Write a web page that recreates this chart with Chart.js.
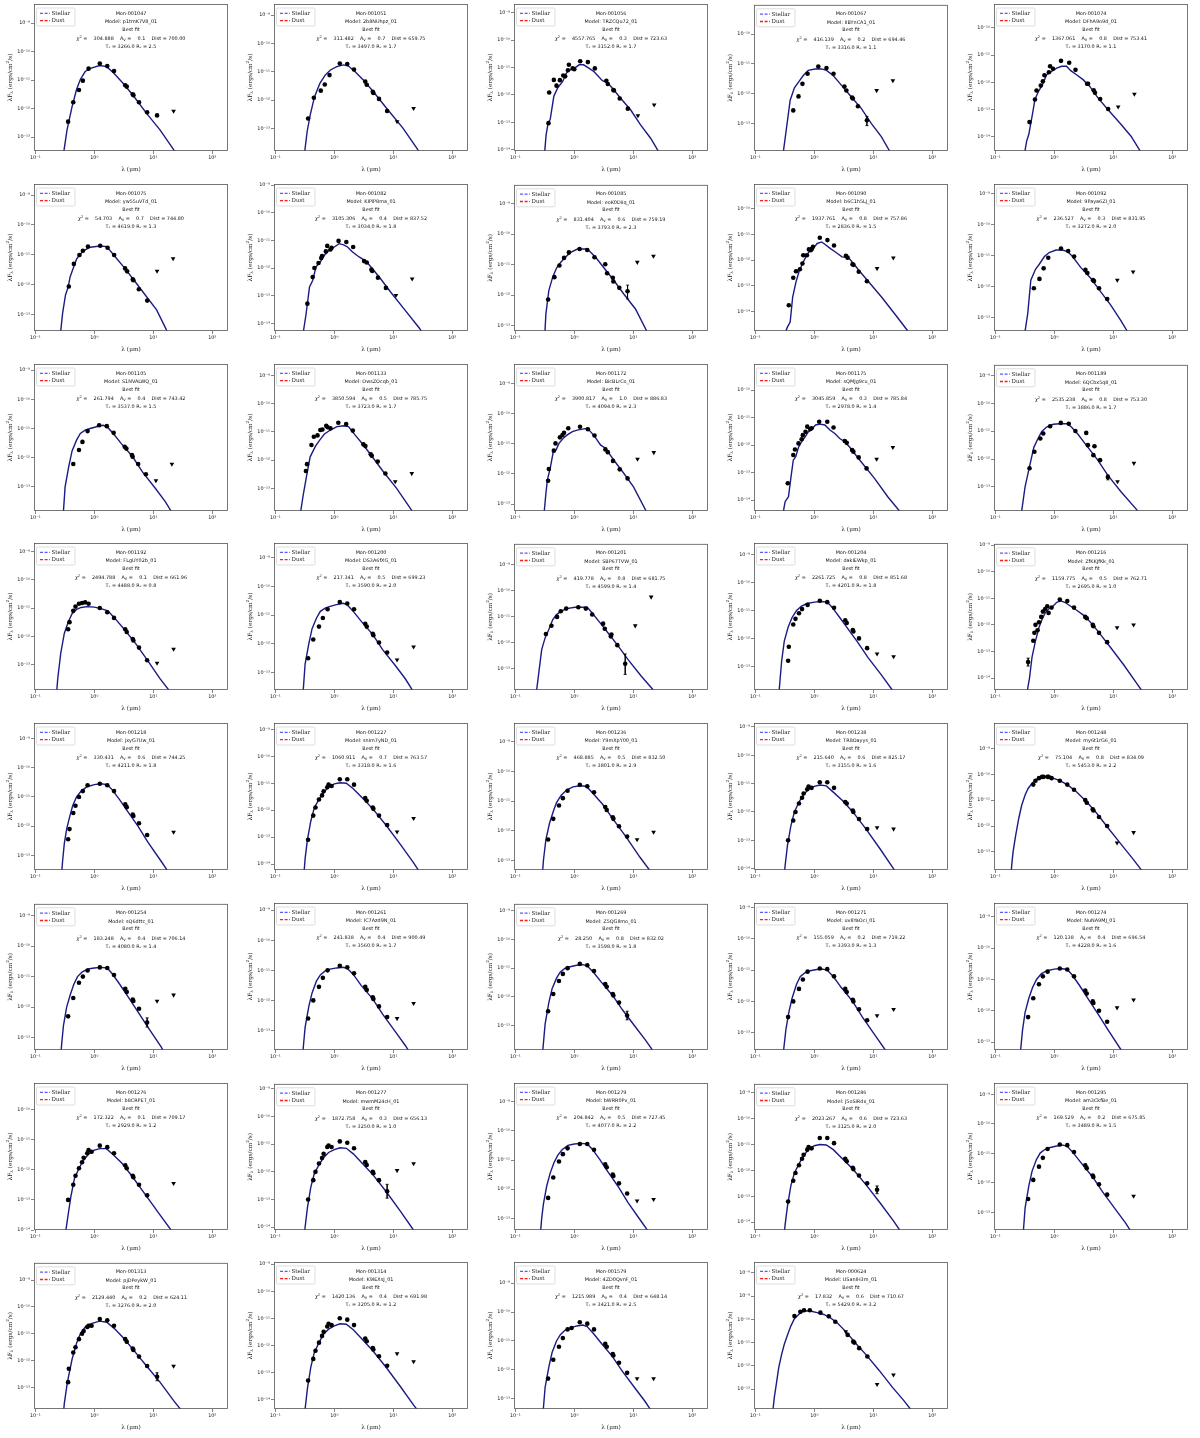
<!DOCTYPE html>
<html><head><meta charset="utf-8">
<script src="https://cdn.jsdelivr.net/npm/chart.js@4.4.1/dist/chart.umd.min.js"></script>
<style>
html,body{margin:0;padding:0;background:#fff}
body{position:relative;width:1200px;height:1438px;overflow:hidden}
canvas{position:absolute}
</style></head>
<body>
<script>
// ---------- panel metadata ----------
const panelIds = ['Mon-001047','Mon-001051','Mon-001056','Mon-001067','Mon-001074','Mon-001075','Mon-001082','Mon-001085','Mon-001090','Mon-001092','Mon-001105','Mon-001133','Mon-001172','Mon-001175','Mon-001189','Mon-001192','Mon-001200','Mon-001201','Mon-001204','Mon-001216','Mon-001218','Mon-001227','Mon-001236','Mon-001238','Mon-001248','Mon-001254','Mon-001261','Mon-001269','Mon-001271','Mon-001274','Mon-001276','Mon-001277','Mon-001279','Mon-001286','Mon-001295','Mon-001313','Mon-001314','Mon-001579','Mon-000624'];
const modelNames = ['p1tmK7V8_01','2b8NUhpz_01','TRZCQu72_01','IIBYnCA1_01','DFhA9o9d_01','yw55uVTd_01','KIPiP8ma_01','eoK0Diiq_01','b6C1h5LJ_01','9Paya6ZI_01','S1NVALWQ_01','OwsZOcqb_01','BicBLrCo_01','sQMJg9cu_01','6QCbx5q8_01','FLgUY02b_01','DS3A6fXG_01','SBP67TVW_01','dakIEWkp_01','ZfKKJfKk_01','jxyG7Uw_01','snim7yND_01','Y9mXpY00_01','TR8Oayys_01','my6t1rG6_01','sQ6dttc_01','IC7Azd9N_01','Z5QGIlmo_01','uv8YaOci_01','NuNA9MJ_01','b8CRPET_01','mwmM24cH_01','bWRR0Pv_01','j5oSiRdx_01','am3CkfBe_01','pjDPeykW_01','K9IEXsJ_01','4ZD0QvnF_01','USanIH3m_01'];
const chiSq = [304.888,311.482,4557.765,416.139,1367.061,54.703,3105.306,831.404,1937.761,236.527,261.794,3850.594,3900.817,3045.859,2535.238,2494.788,217.341,419.778,2261.725,1159.775,330.431,1060.911,468.885,215.640,75.104,183.248,241.838,28.250,155.059,120.138,172.322,1872.758,204.842,2023.267,169.529,2129.440,1420.136,1215.989,17.832];
const avValues = [0.1,0.7,0.3,0.2,0.8,0.7,0.4,0.6,0.8,0.3,0.4,0.5,1.0,0.3,0.8,0.1,0.5,0.8,0.8,0.5,0.6,0.7,0.5,0.6,0.8,0.4,0.4,0.8,0.2,0.4,0.1,0.3,0.5,0.6,0.2,0.2,0.4,0.4,0.6];
const distances = [700.00,659.75,723.63,694.46,753.41,744.80,837.52,759.19,757.86,831.95,743.42,785.75,886.83,785.84,753.30,661.96,699.23,681.75,851.68,762.71,744.25,763.57,832.50,825.17,834.09,706.14,900.49,832.02,719.22,696.54,709.17,656.13,727.45,723.63,675.85,624.11,691.98,648.14,710.67];
const tStar = [3266,3497,3152,3316,3170,4619,3034,3793,2836,3272,3537,3723,4094,2978,3886,4488,3590,4599,4201,2695,4211,3318,3801,3155,5453,4080,3560,3598,3393,4228,2929,3250,4077,3125,3489,3276,3205,3421,5429];
const rStar = [2.5,1.7,1.7,1.1,1.1,1.3,1.8,2.3,1.5,2.0,1.5,1.7,2.3,1.4,1.7,0.8,2.0,1.4,1.8,1.0,1.8,1.6,2.9,1.6,2.2,1.4,1.7,1.8,1.3,1.6,1.2,1.0,2.2,2.0,1.5,2.0,1.2,2.5,3.2];

// ---------- axis ranges: log10 of flux limits [bottom, top] ----------
const yRangeLog = [[-13.49,-8.33],[-13.8,-8.61],[-14.04,-8.68],[-13.92,-9.02],[-14.49,-9.12],[-13.56,-8.63],[-14.28,-8.96],[-13.17,-8.39],[-14.75,-9.04],[-13.44,-8.7],
[-13.83,-8.79],[-13.8,-8.59],[-13.23,-8.36],[-14.4,-9.05],[-13.87,-8.61],[-13.9,-8.7],[-13.6,-8.5],[-13.83,-8.19],[-13.85,-8.58],[-14.45,-8.95],
[-13.5,-8.47],[-14.2,-8.76],[-13.33,-8.36],[-14.05,-8.86],[-13.7,-8.02],[-13.4,-8.62],[-13.65,-8.76],[-13.85,-8.76],[-13.55,-8.86],[-13.25,-8.56],
[-14.0,-9.12],[-14.1,-8.82],[-13.4,-8.36],[-14.3,-8.66],[-13.6,-8.61],[-13.8,-8.36],[-14.35,-8.92],[-13.35,-8.27],[-13.86,-7.53]];
const xRange = [0.095, 185];
const xTickValues = [0.1, 1, 10, 100];

// ---------- photometry: [wavelength um, log10 lambda F_lambda] ----------
const obsPoints = [
[[0.36,-12.46],[0.44,-11.78],[0.55,-11.35],[0.64,-11.02],[0.80,-10.6],[1.24,-10.42],[1.66,-10.51],[2.16,-10.68],[3.35,-11.18],[3.55,-11.23],[4.49,-11.5],[4.6,-11.53],[5.73,-11.78],[7.87,-12.13],[11.6,-12.24]],
[[0.36,-12.65],[0.45,-11.92],[0.59,-11.67],[0.69,-11.45],[0.83,-11.12],[1.24,-10.71],[1.66,-10.73],[2.16,-10.92],[3.35,-11.35],[3.55,-11.46],[4.49,-11.71],[4.6,-11.75],[5.73,-11.96],[7.87,-12.39]],
[[0.365,-13.03],[0.375,-11.91],[0.45,-11.45],[0.50,-11.66],[0.57,-11.46],[0.65,-11.29],[0.70,-11.32],[0.78,-11.1],[0.81,-10.9],[0.94,-11.03],[1.0,-11.06],[1.26,-10.77],[1.70,-10.8],[2.23,-11.03],[3.5,-11.48],[3.7,-11.6],[4.6,-11.82],[4.7,-11.84],[5.9,-12.13],[8.1,-12.5]],
[[0.44,-12.56],[0.54,-12.09],[0.63,-11.67],[0.77,-11.33],[1.17,-11.09],[1.61,-11.14],[2.12,-11.33],[3.24,-11.76],[3.5,-11.89],[4.37,-12.13],[4.5,-12.16],[5.5,-12.42],[7.8,-12.89]],
[[0.38,-13.46],[0.47,-12.63],[0.5,-12.3],[0.59,-12.12],[0.64,-11.96],[0.68,-11.74],[0.81,-11.63],[0.85,-11.41],[0.95,-11.5],[1.3,-11.21],[1.79,-11.28],[2.29,-11.54],[3.6,-12.05],[3.74,-12.05],[4.66,-12.29],[4.9,-12.38],[6.0,-12.61],[8.2,-12.98]],
[[0.37,-12.07],[0.45,-11.31],[0.56,-11.01],[0.64,-10.87],[0.78,-10.73],[1.26,-10.7],[1.68,-10.77],[2.17,-11.01],[3.33,-11.46],[3.6,-11.56],[4.49,-11.83],[4.6,-11.86],[5.7,-12.16],[7.9,-12.54]],
[[0.35,-13.29],[0.43,-12.33],[0.46,-12.0],[0.54,-11.82],[0.6,-11.64],[0.62,-11.57],[0.72,-11.4],[0.76,-11.2],[0.86,-11.33],[0.9,-11.27],[1.18,-11.02],[1.6,-11.06],[2.09,-11.24],[3.2,-11.75],[3.55,-11.8],[4.26,-12.06],[4.4,-12.11],[5.5,-12.35],[7.5,-12.72]],
[[0.36,-12.14],[0.46,-11.41],[0.56,-11.03],[0.67,-10.78],[0.81,-10.6],[1.23,-10.49],[1.66,-10.52],[2.2,-10.76],[3.35,-10.99],[3.6,-11.28],[4.5,-11.43],[4.6,-11.55],[5.8,-11.76],[8.0,-11.87]],
[[0.37,-13.75],[0.44,-12.68],[0.49,-12.43],[0.57,-12.35],[0.63,-12.13],[0.65,-11.81],[0.75,-11.81],[0.81,-11.58],[0.87,-11.61],[0.9,-11.57],[0.95,-11.48],[1.24,-11.13],[1.67,-11.22],[2.16,-11.43],[3.44,-11.83],[3.66,-11.9],[4.45,-12.16],[4.6,-12.18],[5.67,-12.45],[7.8,-12.82]],
[[0.45,-12.06],[0.56,-11.76],[0.66,-11.42],[0.79,-11.08],[1.3,-10.78],[1.72,-10.86],[2.17,-11.04],[3.37,-11.47],[3.64,-11.57],[4.54,-11.8],[4.72,-11.83],[5.74,-12.06],[7.9,-12.41]],
[[0.44,-12.22],[0.55,-11.74],[0.63,-11.46],[0.77,-11.09],[1.21,-10.89],[1.63,-10.92],[2.13,-11.15],[3.28,-11.63],[3.5,-11.69],[4.35,-11.91],[4.47,-11.97],[5.55,-12.22],[7.5,-12.57]],
[[0.33,-12.38],[0.345,-12.14],[0.41,-11.46],[0.45,-11.17],[0.52,-11.12],[0.58,-10.93],[0.63,-10.91],[0.73,-10.78],[0.77,-10.83],[0.86,-10.87],[1.17,-10.67],[1.59,-10.72],[2.06,-10.95],[3.12,-11.44],[3.37,-11.5],[4.15,-11.79],[4.32,-11.84],[5.45,-12.05],[7.35,-12.47]],
[[0.36,-12.23],[0.37,-11.84],[0.45,-11.23],[0.48,-10.99],[0.57,-10.79],[0.63,-10.71],[0.67,-10.64],[0.79,-10.49],[1.25,-10.44],[1.7,-10.52],[2.2,-10.73],[3.37,-11.19],[3.7,-11.28],[4.54,-11.57],[5.9,-11.85],[8.0,-12.15]],
[[0.355,-13.39],[0.44,-12.36],[0.47,-12.16],[0.54,-11.94],[0.61,-11.79],[0.64,-11.64],[0.71,-11.52],[0.76,-11.33],[0.85,-11.42],[0.9,-11.39],[1.21,-11.15],[1.66,-11.15],[2.12,-11.36],[3.29,-11.85],[3.55,-11.92],[4.37,-12.18],[4.6,-12.24],[5.66,-12.45],[7.7,-12.85]],
[[0.38,-12.33],[0.46,-11.74],[0.58,-11.26],[0.65,-11.08],[0.85,-10.82],[1.29,-10.7],[1.76,-10.73],[2.28,-10.99],[3.48,-11.06],[3.71,-11.5],[4.6,-11.86],[4.8,-11.54],[5.97,-12.04],[8.1,-12.65]],
[[0.36,-11.75],[0.38,-11.5],[0.44,-11.1],[0.48,-10.95],[0.55,-10.85],[0.62,-10.82],[0.7,-10.8],[0.8,-10.85],[1.24,-11.0],[1.66,-11.15],[2.16,-11.35],[3.35,-11.75],[3.55,-11.85],[4.49,-12.1],[4.6,-12.15],[5.73,-12.4],[7.87,-12.85]],
[[0.36,-12.5],[0.44,-11.85],[0.55,-11.4],[0.64,-11.1],[0.77,-10.8],[1.24,-10.55],[1.66,-10.6],[2.16,-10.8],[3.35,-11.3],[3.55,-11.4],[4.49,-11.65],[4.6,-11.7],[5.73,-11.95],[7.87,-12.3]],
[[0.33,-11.67],[0.41,-11.35],[0.51,-11.01],[0.59,-10.79],[0.73,-10.69],[1.17,-10.64],[1.57,-10.69],[2.01,-10.92],[3.08,-11.27],[3.29,-11.47],[4.16,-11.76],[4.26,-11.69],[5.37,-12.1],[7.3,-12.82]],
[[0.36,-12.8],[0.37,-12.3],[0.44,-11.5],[0.48,-11.3],[0.55,-11.1],[0.62,-10.95],[0.77,-10.8],[1.24,-10.65],[1.66,-10.7],[2.16,-10.9],[3.35,-11.35],[3.55,-11.45],[4.49,-11.7],[4.6,-11.75],[5.73,-12.0],[7.87,-12.35]],
[[0.36,-13.4],[0.44,-12.6],[0.46,-12.3],[0.48,-12.0],[0.52,-12.2],[0.55,-11.9],[0.6,-11.7],[0.64,-11.5],[0.7,-11.4],[0.76,-11.3],[0.8,-11.55],[0.9,-11.35],[1.24,-11.05],[1.66,-11.1],[2.16,-11.35],[3.35,-11.7],[3.55,-11.75],[4.49,-12.0],[4.6,-12.05],[5.73,-12.3],[7.87,-12.65]],
[[0.36,-12.45],[0.38,-12.1],[0.44,-11.55],[0.48,-11.3],[0.55,-11.0],[0.64,-10.8],[0.77,-10.6],[1.24,-10.55],[1.66,-10.6],[2.16,-10.8],[3.35,-11.25],[3.55,-11.35],[4.49,-11.6],[4.6,-11.65],[5.73,-11.9],[7.87,-12.3]],
[[0.36,-13.1],[0.44,-12.2],[0.48,-11.9],[0.55,-11.6],[0.62,-11.45],[0.66,-11.3],[0.76,-11.15],[0.8,-11.05],[0.9,-11.1],[1.24,-10.85],[1.66,-10.85],[2.16,-11.05],[3.35,-11.55],[3.55,-11.65],[4.49,-11.9],[4.6,-11.95],[5.73,-12.2],[7.87,-12.55]],
[[0.36,-12.3],[0.44,-11.6],[0.55,-11.15],[0.64,-10.9],[0.77,-10.65],[1.24,-10.45],[1.66,-10.5],[2.16,-10.7],[3.35,-11.2],[3.55,-11.3],[4.49,-11.55],[4.6,-11.6],[5.73,-11.85],[7.87,-12.2]],
[[0.36,-13.0],[0.44,-12.3],[0.48,-12.0],[0.55,-11.7],[0.62,-11.5],[0.66,-11.35],[0.76,-11.2],[0.8,-11.1],[0.9,-11.15],[1.24,-10.95],[1.66,-10.95],[2.16,-11.15],[3.35,-11.65],[3.55,-11.7],[4.49,-11.95],[4.6,-12.0],[5.73,-12.25],[7.87,-12.6]],
[[0.44,-10.4],[0.48,-10.25],[0.55,-10.15],[0.62,-10.1],[0.66,-10.1],[0.77,-10.1],[0.8,-10.1],[0.9,-10.15],[1.24,-10.25],[1.66,-10.4],[2.16,-10.6],[3.35,-11.0],[3.55,-11.1],[4.49,-11.35],[4.6,-11.4],[5.73,-11.65],[7.87,-12.0]],
[[0.36,-12.3],[0.44,-11.7],[0.55,-11.2],[0.64,-11.0],[0.77,-10.8],[1.24,-10.7],[1.66,-10.72],[2.16,-10.95],[3.35,-11.4],[3.55,-11.5],[4.49,-11.75],[4.6,-11.8],[5.73,-12.05],[7.87,-12.5]],
[[0.36,-12.6],[0.44,-12.0],[0.55,-11.55],[0.64,-11.25],[0.77,-11.0],[1.24,-10.85],[1.66,-10.9],[2.16,-11.1],[3.35,-11.55],[3.55,-11.65],[4.49,-11.9],[4.6,-11.95],[5.73,-12.2],[7.87,-12.55]],
[[0.36,-12.5],[0.44,-11.9],[0.55,-11.45],[0.64,-11.2],[0.77,-11.0],[1.24,-10.85],[1.66,-10.9],[2.16,-11.1],[3.35,-11.55],[3.55,-11.65],[4.49,-11.9],[4.6,-11.95],[5.73,-12.2],[7.87,-12.65]],
[[0.36,-12.5],[0.44,-12.0],[0.55,-11.6],[0.64,-11.3],[0.77,-11.05],[1.24,-10.95],[1.66,-10.97],[2.16,-11.2],[3.35,-11.6],[3.55,-11.7],[4.49,-11.95],[4.6,-12.0],[5.73,-12.25],[7.87,-12.6]],
[[0.36,-12.2],[0.44,-11.6],[0.55,-11.15],[0.64,-10.9],[0.77,-10.75],[1.24,-10.65],[1.66,-10.68],[2.16,-10.9],[3.35,-11.35],[3.55,-11.45],[4.49,-11.7],[4.6,-11.75],[5.73,-12.0],[7.87,-12.35]],
[[0.36,-13.0],[0.44,-12.5],[0.48,-12.2],[0.55,-11.95],[0.62,-11.75],[0.66,-11.6],[0.76,-11.45],[0.8,-11.35],[0.9,-11.4],[1.24,-11.2],[1.66,-11.25],[2.16,-11.45],[3.35,-11.85],[3.55,-11.95],[4.49,-12.2],[4.6,-12.25],[5.73,-12.5],[7.87,-12.85]],
[[0.36,-13.0],[0.44,-12.3],[0.48,-12.0],[0.55,-11.7],[0.62,-11.5],[0.66,-11.35],[0.76,-11.1],[0.8,-11.05],[0.9,-11.1],[1.24,-10.9],[1.66,-10.95],[2.16,-11.15],[3.35,-11.65],[3.55,-11.75],[4.49,-12.0],[4.6,-12.05],[5.73,-12.3],[7.87,-12.7]],
[[0.36,-12.3],[0.44,-11.6],[0.55,-11.05],[0.64,-10.8],[0.77,-10.6],[1.24,-10.45],[1.66,-10.45],[2.16,-10.65],[3.35,-11.15],[3.55,-11.25],[4.49,-11.5],[4.6,-11.55],[5.73,-11.8],[7.87,-12.15]],
[[0.36,-13.2],[0.44,-12.4],[0.48,-12.1],[0.55,-11.8],[0.62,-11.55],[0.66,-11.4],[0.76,-11.2],[0.8,-11.1],[0.9,-11.15],[1.24,-10.75],[1.66,-10.75],[2.16,-10.95],[3.35,-11.55],[3.55,-11.65],[4.49,-11.9],[4.6,-11.95],[5.73,-12.2],[7.87,-12.5],[11.6,-12.75]],
[[0.36,-12.55],[0.44,-11.9],[0.55,-11.45],[0.64,-11.15],[0.77,-10.85],[1.24,-10.7],[1.66,-10.72],[2.16,-10.95],[3.35,-11.4],[3.55,-11.5],[4.49,-11.75],[4.6,-11.8],[5.73,-12.05],[7.87,-12.4]],
[[0.36,-12.8],[0.37,-12.3],[0.44,-11.7],[0.48,-11.5],[0.55,-11.2],[0.62,-11.0],[0.66,-10.9],[0.76,-10.75],[0.8,-10.7],[0.9,-10.7],[1.24,-10.45],[1.66,-10.5],[2.16,-10.7],[3.35,-11.2],[3.55,-11.3],[4.49,-11.55],[4.6,-11.6],[5.73,-11.85],[7.87,-12.2],[11.6,-12.6]],
[[0.36,-13.3],[0.44,-12.5],[0.48,-12.2],[0.55,-11.9],[0.62,-11.65],[0.66,-11.5],[0.76,-11.3],[0.8,-11.2],[0.9,-11.25],[1.24,-11.0],[1.66,-11.05],[2.16,-11.25],[3.35,-11.75],[3.55,-11.85],[4.49,-12.1],[4.6,-12.15],[5.73,-12.4],[7.87,-12.75]],
[[0.36,-12.3],[0.44,-11.65],[0.55,-11.2],[0.64,-10.9],[0.77,-10.6],[0.9,-10.55],[1.24,-10.35],[1.66,-10.4],[2.16,-10.6],[3.35,-11.1],[3.55,-11.2],[4.49,-11.45],[4.6,-11.5],[5.73,-11.75],[7.87,-12.1]],
[[0.46,-9.86],[0.58,-9.67],[0.67,-9.61],[0.84,-9.61],[1.27,-9.71],[1.76,-9.87],[2.27,-10.1],[3.68,-10.67],[4.58,-10.96],[4.76,-11.0],[5.77,-11.24],[7.94,-11.6]]
];

// ---------- upper limits: [wavelength um, log10 flux] ----------
const upperLimits = [
[[22.1,-12.09]],[[11.6,-12.76],[22.1,-12.29]],[[12,-12.75],[22.6,-12.36]],[[11.4,-11.89],[21.5,-11.56]],[[12.1,-12.9],[22.8,-12.43]],
[[11.6,-11.55],[21.7,-11.13]],[[11.1,-12.99],[20.9,-12.39]],[[11.7,-10.92],[22,-10.72]],[[11.6,-12.32],[21.9,-11.91]],[[11.7,-11.8],[21.7,-11.53]],
[[11.1,-12.79],[20.7,-12.22]],[[10.8,-12.76],[20.6,-12.47]],[[11.8,-11.51],[22.3,-11.29]],[[11.4,-12.51],[21.5,-12.08]],[[11.8,-12.81],[22.4,-12.15]],
[[11.6,-12.95],[22.1,-12.45]],[[11.6,-12.55],[22.1,-12.1]],[[10.8,-11.35],[20.1,-10.24]],[[11.6,-12.55],[22.1,-12.65]],[[11.6,-12.1],[22.1,-12.0]],
[[22.1,-12.2]],[[11.6,-12.8],[22.1,-12.3]],[[11.6,-12.3],[22.1,-12.05]],[[11.6,-12.55],[22.1,-12.6]],[[11.6,-12.65],[22.1,-12.25]],
[[11.6,-11.8],[22.1,-11.6]],[[11.6,-12.6],[22.1,-12.1]],[],[[11.6,-12.45],[22.1,-12.25]],[[11.6,-11.9],[22.1,-11.65]],
[[22.1,-12.45]],[[11.6,-11.95],[22.1,-11.7]],[[11.6,-12.4],[22.1,-12.35]],[],[[22.1,-12.45]],
[[22.1,-12.2]],[[11.6,-12.3],[22.1,-12.6]],[[11.6,-12.3],[22.1,-12.3]],[[3.41,-10.53],[11.6,-12.8],[22.0,-12.39]]
];

// ---------- error bars: [wavelength um, log10 low, log10 high] ----------
const errorBars = [
[],[],[],[[7.8,-12.76,-13.07]],[],[],[],[[8.0,-11.67,-12.12]],[],[],
[],[],[],[],[[8.1,-12.57,-12.75]],[],[],[[7.3,-12.44,-13.23]],[],[[0.36,-13.25,-13.55]],
[],[],[],[],[],[[7.87,-12.35,-12.65]],[],[[7.87,-12.5,-12.8]],[],[],
[],[[7.87,-12.45,-12.95]],[],[[11.6,-12.6,-12.9]],[],[[11.6,-12.45,-12.75]],[],[],[]
];

// ---------- best-fit model curves: [wavelength um, log10 flux] ----------
const modelCurves = [
[[0.29,-14.2],[0.30,-13.6],[0.345,-12.75],[0.42,-11.93],[0.5,-11.33],[0.58,-10.98],[0.7,-10.7],[0.86,-10.59],[1.23,-10.49],[1.63,-10.53],[2.17,-10.77],[3.1,-11.12],[4.6,-11.55],[7.7,-12.17],[13,-12.75],[22.3,-13.45],[30,-13.8]],
[[0.3,-14.5],[0.316,-13.8],[0.346,-13.12],[0.39,-12.53],[0.46,-11.9],[0.57,-11.41],[0.7,-11.12],[0.86,-10.94],[1.1,-10.82],[1.44,-10.76],[1.74,-10.8],[2.26,-11.0],[3.1,-11.29],[4.6,-11.71],[7.7,-12.29],[14.7,-13.0],[25.7,-13.73],[30,-14]],
[[0.31,-14.5],[0.316,-14.04],[0.333,-13.45],[0.36,-13.03],[0.39,-12.9],[0.45,-12.05],[0.52,-11.75],[0.64,-11.5],[0.72,-11.23],[0.82,-11.09],[1.0,-11.03],[1.21,-10.9],[1.44,-10.9],[1.79,-11.03],[2.17,-11.15],[3.0,-11.48],[3.65,-11.55],[4.7,-11.82],[6.1,-12.12],[9.0,-12.54],[13.3,-13.09],[19.7,-13.58],[26.4,-14.04],[30,-14.3]],
[[0.29,-14.5],[0.30,-13.92],[0.34,-13.11],[0.39,-12.22],[0.46,-11.8],[0.54,-11.61],[0.65,-11.39],[0.79,-11.22],[1.03,-11.17],[1.33,-11.17],[1.61,-11.22],[2.09,-11.39],[2.9,-11.72],[4.26,-12.11],[6.3,-12.5],[9.3,-13.0],[13.7,-13.44],[18.9,-13.92],[25,-14.3]],
[[0.31,-15],[0.32,-14.49],[0.34,-14.16],[0.37,-13.91],[0.43,-13.12],[0.47,-12.63],[0.54,-12.33],[0.63,-12.09],[0.74,-11.72],[0.9,-11.6],[1.1,-11.48],[1.33,-11.41],[1.61,-11.41],[1.9,-11.57],[2.38,-11.72],[3.08,-11.9],[4.0,-12.15],[5.5,-12.57],[8.1,-13.0],[13.6,-13.55],[20,-13.98],[28,-14.49],[34,-14.8]],
[[0.26,-14],[0.27,-13.56],[0.29,-12.97],[0.325,-12.35],[0.36,-12.09],[0.39,-11.74],[0.45,-11.4],[0.5,-11.15],[0.58,-10.98],[0.7,-10.84],[0.85,-10.75],[1.26,-10.71],[1.63,-10.73],[2.26,-11.07],[3.3,-11.46],[4.9,-11.9],[7.7,-12.41],[11.4,-12.85],[16.8,-13.53],[20,-13.8]],
[[0.29,-15],[0.3,-14.28],[0.33,-13.71],[0.38,-12.69],[0.43,-12.45],[0.49,-11.96],[0.58,-11.78],[0.68,-11.54],[0.82,-11.36],[1.0,-11.24],[1.21,-11.12],[1.44,-11.16],[1.68,-11.24],[2.04,-11.42],[2.64,-11.6],[3.42,-11.75],[4.4,-12.02],[6.1,-12.39],[9.0,-12.87],[15.1,-13.47],[28,-14.19],[32,-14.4]],
[[0.31,-13.6],[0.33,-12.61],[0.37,-11.85],[0.43,-11.41],[0.5,-11.11],[0.59,-10.92],[0.72,-10.74],[0.87,-10.6],[1.13,-10.49],[1.56,-10.49],[1.77,-10.54],[2.3,-10.76],[3.2,-11.11],[4.7,-11.52],[6.9,-11.96],[10.9,-12.45],[17,-13.18],[20,-13.4]],
[[0.32,-15.2],[0.33,-14.75],[0.35,-14.6],[0.39,-14.4],[0.43,-13.43],[0.49,-12.84],[0.55,-12.45],[0.63,-12.13],[0.72,-11.87],[0.81,-11.68],[0.95,-11.55],[1.12,-11.35],[1.33,-11.29],[1.51,-11.38],[1.88,-11.55],[2.28,-11.68],[2.95,-11.87],[3.81,-11.9],[4.6,-12.13],[5.97,-12.45],[8.2,-12.82],[13.8,-13.43],[23,-14.08],[38,-14.73],[42,-14.9]],
[[0.31,-14],[0.32,-13.44],[0.355,-12.87],[0.4,-11.8],[0.48,-11.45],[0.56,-11.28],[0.68,-11.04],[0.82,-10.91],[1.07,-10.83],[1.38,-10.83],[1.68,-10.88],[2.04,-11.04],[2.8,-11.39],[4.15,-11.74],[6.1,-12.17],[9,-12.6],[13.3,-13.09],[17.2,-13.44],[20,-13.7]],
[[0.29,-14.3],[0.3,-13.83],[0.32,-13.0],[0.37,-12.29],[0.42,-11.77],[0.5,-11.4],[0.58,-11.17],[0.7,-11.06],[0.85,-11.0],[1.09,-10.94],[1.41,-10.89],[1.65,-10.94],[2.13,-11.19],[2.85,-11.51],[4.47,-11.97],[6.55,-12.49],[10.9,-13.06],[16,-13.51],[20,-13.83],[24,-14.1]],
[[0.26,-14.3],[0.27,-13.8],[0.3,-13.18],[0.345,-12.47],[0.39,-11.88],[0.48,-11.5],[0.57,-11.28],[0.68,-11.07],[0.86,-10.93],[1.11,-10.81],[1.44,-10.78],[1.74,-10.81],[2.26,-11.11],[3.12,-11.46],[4.6,-11.93],[6.8,-12.41],[11.4,-13.0],[20.4,-13.77],[24,-14.0]],
[[0.3,-13.8],[0.31,-13.23],[0.33,-12.65],[0.35,-12.2],[0.39,-11.82],[0.44,-11.27],[0.49,-11.21],[0.55,-10.99],[0.65,-10.82],[0.76,-10.71],[0.93,-10.6],[1.12,-10.55],[1.46,-10.51],[1.66,-10.49],[1.88,-10.6],[2.2,-10.75],[2.78,-11.04],[3.37,-11.15],[4.66,-11.54],[6.9,-11.98],[10.1,-12.43],[16.5,-13.23],[19,-13.5]],
[[0.29,-15],[0.3,-14.4],[0.32,-14.06],[0.365,-13.88],[0.4,-13.21],[0.44,-12.55],[0.485,-12.42],[0.54,-12.08],[0.61,-11.88],[0.7,-11.7],[0.79,-11.52],[0.9,-11.42],[1.05,-11.27],[1.25,-11.24],[1.51,-11.27],[1.84,-11.45],[2.23,-11.58],[2.7,-11.76],[3.29,-11.88],[4.0,-12.08],[5.2,-12.4],[7.1,-12.76],[10.5,-13.21],[17.6,-13.88],[27.8,-14.4],[32,-14.6]],
[[0.27,-14.3],[0.28,-13.87],[0.32,-12.99],[0.38,-12.27],[0.45,-11.58],[0.53,-11.26],[0.61,-11.02],[0.74,-10.85],[0.96,-10.75],[1.24,-10.73],[1.67,-10.73],[1.95,-10.85],[2.52,-11.11],[3.48,-11.5],[5.46,-12.04],[8.0,-12.57],[13.4,-13.17],[24.9,-13.82],[28,-14.0]],
[[0.22,-14.5],[0.24,-13.5],[0.27,-12.6],[0.31,-11.9],[0.36,-11.5],[0.42,-11.2],[0.5,-11.05],[0.6,-10.98],[0.75,-10.95],[1.0,-10.97],[1.3,-11.02],[1.7,-11.1],[2.2,-11.35],[3.3,-11.78],[5,-12.25],[8,-12.85],[13,-13.5],[20,-14.0]],
[[0.29,-14],[0.3,-13.5],[0.32,-12.7],[0.37,-11.99],[0.42,-11.47],[0.5,-11.1],[0.58,-10.87],[0.7,-10.76],[0.85,-10.7],[1.09,-10.64],[1.41,-10.59],[1.65,-10.64],[2.13,-10.89],[2.85,-11.21],[4.47,-11.67],[6.55,-12.19],[10.9,-12.76],[16,-13.21],[20,-13.53],[24,-13.8]],
[[0.22,-14.2],[0.23,-13.83],[0.25,-13.17],[0.28,-12.27],[0.32,-11.82],[0.37,-11.5],[0.43,-11.12],[0.5,-10.92],[0.6,-10.79],[0.74,-10.69],[1.03,-10.64],[1.33,-10.64],[1.66,-10.64],[1.96,-10.83],[2.7,-11.22],[3.74,-11.63],[5.5,-12.12],[8.1,-12.65],[13.6,-13.29],[21.5,-13.81],[25,-14.0]],
[[0.24,-14.5],[0.26,-13.6],[0.28,-12.8],[0.31,-12.1],[0.36,-11.6],[0.42,-11.25],[0.5,-11.0],[0.6,-10.85],[0.75,-10.75],[1.0,-10.7],[1.3,-10.68],[1.66,-10.7],[2.0,-10.88],[2.7,-11.25],[3.7,-11.65],[5.5,-12.15],[8.1,-12.68],[13.6,-13.3],[21,-13.85],[25,-14.1]],
[[0.33,-15],[0.35,-14.45],[0.38,-14.0],[0.42,-13.2],[0.48,-12.6],[0.55,-12.1],[0.62,-11.8],[0.7,-11.55],[0.8,-11.4],[0.95,-11.3],[1.1,-11.15],[1.3,-11.1],[1.5,-11.15],[1.9,-11.3],[2.4,-11.45],[3.2,-11.65],[4.5,-12.0],[6,-12.35],[9,-12.85],[15,-13.5],[25,-14.2],[30,-14.45]],
[[0.27,-14],[0.29,-13.2],[0.31,-12.6],[0.34,-12.1],[0.38,-11.7],[0.43,-11.3],[0.5,-11.0],[0.6,-10.8],[0.75,-10.65],[1.0,-10.58],[1.3,-10.55],[1.66,-10.58],[2.0,-10.75],[2.7,-11.1],[3.7,-11.5],[5.5,-12.0],[8.1,-12.55],[13.6,-13.2],[20,-13.7]],
[[0.3,-14.6],[0.32,-13.8],[0.35,-13.1],[0.4,-12.4],[0.46,-11.9],[0.55,-11.6],[0.65,-11.35],[0.8,-11.15],[1.0,-11.02],[1.25,-10.98],[1.6,-11.0],[2.1,-11.2],[3.0,-11.55],[4.5,-11.95],[7.5,-12.55],[13,-13.25],[22,-13.95],[28,-14.3]],
[[0.28,-13.8],[0.3,-13.0],[0.33,-12.3],[0.38,-11.75],[0.44,-11.35],[0.5,-11.05],[0.6,-10.8],[0.75,-10.62],[0.95,-10.52],[1.25,-10.48],[1.6,-10.5],[2.1,-10.75],[3.0,-11.1],[4.5,-11.6],[7.5,-12.2],[13,-12.9],[20,-13.4]],
[[0.3,-14.5],[0.32,-13.9],[0.35,-13.2],[0.4,-12.5],[0.46,-12.0],[0.55,-11.65],[0.65,-11.4],[0.8,-11.2],[1.0,-11.1],[1.25,-11.05],[1.6,-11.08],[2.1,-11.3],[3.0,-11.6],[4.5,-12.0],[7.5,-12.6],[13,-13.3],[22,-14.0],[27,-14.3]],
[[0.18,-14.2],[0.19,-13.5],[0.2,-13.0],[0.22,-12.4],[0.25,-11.7],[0.28,-11.2],[0.32,-10.8],[0.36,-10.55],[0.42,-10.35],[0.5,-10.2],[0.6,-10.12],[0.75,-10.1],[0.95,-10.15],[1.25,-10.25],[1.7,-10.42],[2.3,-10.65],[3.5,-11.05],[5.2,-11.5],[8,-12.05],[13,-12.65],[22,-13.3],[35,-13.9]],
[[0.26,-14],[0.28,-13.2],[0.3,-12.6],[0.34,-12.0],[0.39,-11.6],[0.45,-11.25],[0.52,-11.0],[0.62,-10.85],[0.78,-10.75],[1.0,-10.72],[1.3,-10.7],[1.66,-10.72],[2.0,-10.9],[2.7,-11.25],[3.7,-11.65],[5.5,-12.15],[8.1,-12.65],[13.6,-13.3],[18,-13.7]],
[[0.28,-14.2],[0.3,-13.5],[0.32,-12.9],[0.37,-12.2],[0.42,-11.75],[0.5,-11.35],[0.58,-11.15],[0.7,-11.02],[0.85,-10.96],[1.1,-10.92],[1.4,-10.9],[1.65,-10.93],[2.13,-11.15],[2.85,-11.5],[4.47,-11.95],[6.55,-12.45],[10.9,-13.05],[16,-13.5],[20,-13.8]],
[[0.28,-14.3],[0.3,-13.6],[0.32,-12.95],[0.37,-12.2],[0.42,-11.72],[0.5,-11.35],[0.58,-11.13],[0.7,-11.0],[0.85,-10.95],[1.1,-10.9],[1.4,-10.88],[1.65,-10.92],[2.13,-11.15],[2.85,-11.48],[4.47,-11.95],[6.55,-12.45],[10.9,-13.05],[16,-13.5],[22,-13.9]],
[[0.29,-14.2],[0.3,-13.6],[0.33,-12.9],[0.37,-12.35],[0.42,-11.9],[0.5,-11.45],[0.58,-11.2],[0.7,-11.08],[0.85,-11.02],[1.1,-10.98],[1.4,-10.97],[1.65,-11.0],[2.13,-11.22],[2.85,-11.55],[4.47,-12.0],[6.55,-12.5],[10.9,-13.1],[16,-13.55],[20,-13.85]],
[[0.25,-14],[0.27,-13.2],[0.29,-12.6],[0.32,-12.05],[0.37,-11.6],[0.43,-11.25],[0.5,-11.0],[0.6,-10.82],[0.75,-10.72],[1.0,-10.67],[1.3,-10.65],[1.66,-10.68],[2.0,-10.85],[2.7,-11.2],[3.7,-11.6],[5.5,-12.1],[8.1,-12.6],[13.6,-13.25],[18,-13.6]],
[[0.31,-14.6],[0.33,-14.0],[0.36,-13.5],[0.4,-12.9],[0.46,-12.3],[0.55,-11.95],[0.65,-11.7],[0.8,-11.48],[1.0,-11.35],[1.25,-11.3],[1.6,-11.3],[2.1,-11.5],[3.0,-11.8],[4.5,-12.25],[7.5,-12.85],[13,-13.5],[20,-14.0]],
[[0.3,-14.6],[0.32,-14.0],[0.35,-13.3],[0.4,-12.55],[0.46,-12.05],[0.55,-11.75],[0.65,-11.5],[0.8,-11.3],[1.0,-11.2],[1.25,-11.13],[1.6,-11.15],[2.1,-11.35],[3.0,-11.7],[4.5,-12.1],[7.5,-12.7],[13,-13.4],[22,-14.1]],
[[0.26,-13.8],[0.28,-13.0],[0.3,-12.5],[0.34,-11.9],[0.39,-11.45],[0.45,-11.1],[0.52,-10.85],[0.62,-10.65],[0.78,-10.5],[1.0,-10.45],[1.3,-10.43],[1.66,-10.45],[2.0,-10.62],[2.7,-10.98],[3.7,-11.4],[5.5,-11.9],[8.1,-12.45],[13.6,-13.1],[18,-13.45]],
[[0.3,-14.8],[0.32,-14.1],[0.35,-13.4],[0.4,-12.6],[0.46,-12.1],[0.55,-11.75],[0.65,-11.45],[0.8,-11.2],[1.0,-11.05],[1.25,-11.0],[1.6,-11.02],[2.1,-11.2],[3.0,-11.55],[4.5,-11.95],[7.5,-12.55],[13,-13.25],[22,-13.95],[28,-14.3]],
[[0.29,-14.2],[0.3,-13.6],[0.32,-12.85],[0.37,-12.1],[0.42,-11.6],[0.5,-11.2],[0.58,-10.98],[0.7,-10.86],[0.85,-10.8],[1.1,-10.75],[1.4,-10.72],[1.65,-10.75],[2.13,-11.0],[2.85,-11.32],[4.47,-11.8],[6.55,-12.3],[10.9,-12.9],[16,-13.35],[20,-13.65]],
[[0.29,-14.3],[0.31,-13.6],[0.35,-12.8],[0.42,-11.95],[0.5,-11.35],[0.58,-11.0],[0.7,-10.75],[0.86,-10.63],[1.23,-10.53],[1.63,-10.57],[2.17,-10.8],[3.1,-11.15],[4.6,-11.6],[7.7,-12.2],[13,-12.8],[22.3,-13.5],[30,-13.85]],
[[0.3,-14.9],[0.32,-14.35],[0.35,-13.6],[0.4,-12.8],[0.46,-12.25],[0.55,-11.9],[0.65,-11.6],[0.8,-11.4],[1.0,-11.28],[1.25,-11.2],[1.6,-11.22],[2.1,-11.42],[3.0,-11.78],[4.5,-12.2],[7.5,-12.8],[13,-13.5],[22,-14.2],[26,-14.4]],
[[0.29,-13.9],[0.3,-13.3],[0.32,-12.6],[0.37,-11.9],[0.42,-11.4],[0.5,-11.0],[0.58,-10.78],[0.7,-10.62],[0.85,-10.55],[1.1,-10.48],[1.4,-10.45],[1.65,-10.5],[2.13,-10.75],[2.85,-11.07],[4.47,-11.55],[6.55,-12.05],[10.9,-12.65],[16,-13.1],[20,-13.4]],
[[0.19,-14.3],[0.2,-13.86],[0.21,-13.36],[0.227,-12.79],[0.25,-12.07],[0.28,-11.5],[0.31,-11.07],[0.355,-10.64],[0.4,-10.29],[0.46,-9.97],[0.56,-9.76],[0.67,-9.64],[0.85,-9.64],[1.12,-9.71],[1.45,-9.79],[1.87,-9.93],[2.42,-10.14],[3.55,-10.57],[5.2,-11.07],[7.6,-11.53],[12.7,-12.21],[21.2,-12.93],[33,-13.5],[42.6,-13.86],[48,-14.1]]
];

// ---------- rendering ----------
const SUP = {'-':'⁻','0':'⁰','1':'¹','2':'²','3':'³','4':'⁴','5':'⁵','6':'⁶','7':'⁷','8':'⁸','9':'⁹'};
const supStr = n => String(n).split('').map(c => SUP[c] || c).join('');
const toPts = arr => arr.map(p => ({x: p[0], y: Math.pow(10, p[1])}));

function drawRich(ctx, parts, cx, cy, size, family) {
  const info = parts.map(p => {
    const small = (p[1] === 1 || p[1] === 2);
    const s = small ? size * 0.72 : size;
    const f = (p[1] === 3 ? 'italic ' : '') + s + 'px ' + family;
    ctx.font = f;
    return {f, w: ctx.measureText(p[0]).width};
  });
  const total = info.reduce((a, b) => a + b.w, 0);
  let x = cx - total / 2;
  ctx.textAlign = 'left';
  ctx.textBaseline = 'middle';
  parts.forEach((p, i) => {
    ctx.font = info[i].f;
    const dy = p[1] === 1 ? size * 0.28 : (p[1] === 2 ? -size * 0.35 : 0);
    ctx.fillText(p[0], x, cy + dy);
    x += info[i].w;
  });
}

const decor = {
  id: 'sedDecor',
  afterDraw(chart) {
    const i = chart.options.panelIndex;
    const a = chart.chartArea, ctx = chart.ctx;
    ctx.save();
    // frame
    ctx.strokeStyle = '#555'; ctx.lineWidth = 0.8;
    ctx.strokeRect(a.left + 0.5, a.top + 0.5, a.right - a.left - 1, a.bottom - a.top - 1);
    // legend
    const lx = a.left + 2.5, ly = a.top + 4;
    ctx.fillStyle = 'rgba(255,255,255,0.85)'; ctx.strokeStyle = '#d0d0d0'; ctx.lineWidth = 0.7;
    ctx.beginPath();
    if (ctx.roundRect) ctx.roundRect(lx, ly, 38.5, 18, 1.5); else ctx.rect(lx, ly, 38.5, 18);
    ctx.fill(); ctx.stroke();
    ctx.lineWidth = 1.3; ctx.setLineDash([3, 1.6]);
    ctx.strokeStyle = '#5a5aff';
    ctx.beginPath(); ctx.moveTo(lx + 3.5, ly + 5.3); ctx.lineTo(lx + 13.5, ly + 5.3); ctx.stroke();
    ctx.strokeStyle = '#ff1a1a';
    ctx.beginPath(); ctx.moveTo(lx + 3.5, ly + 12.7); ctx.lineTo(lx + 13.5, ly + 12.7); ctx.stroke();
    ctx.setLineDash([]);
    ctx.fillStyle = '#222'; ctx.font = '5.5px "DejaVu Serif"'; ctx.textAlign = 'left'; ctx.textBaseline = 'middle';
    ctx.fillText('Stellar', lx + 15, ly + 5.5);
    ctx.fillText('Dust', lx + 15, ly + 12.9);
    // annotation block
    const cx = (a.left + a.right) / 2, fs = 4.9, fam = '"DejaVu Sans"';
    ctx.fillStyle = '#111'; ctx.textAlign = 'center';
    ctx.font = fs + 'px ' + fam;
    ctx.fillText(panelIds[i], cx, a.top + 9.3);
    ctx.fillText('Model: ' + modelNames[i], cx, a.top + 17.6);
    ctx.fillText('Best fit', cx, a.top + 25.4);
    drawRich(ctx, [['χ', 3], ['2', 2], [' =    ' + chiSq[i].toFixed(3) + '    A', 0], ['V', 1], [' =    ' + avValues[i].toFixed(1) + '    Dist = ' + distances[i].toFixed(2), 0]], cx, a.top + 34.6, fs, fam);
    drawRich(ctx, [['T', 0], ['*', 1], [' = ' + tStar[i].toFixed(1) + ' R', 0], ['*', 1], [' = ' + rStar[i].toFixed(1), 0]], cx, a.top + 43.2, fs, fam);
    // axis titles
    ctx.fillStyle = '#222';
    drawRich(ctx, [['λ (μm)', 0]], cx, a.bottom + 18, 5.8, '"DejaVu Serif"');
    ctx.translate(10, (a.top + a.bottom) / 2);
    ctx.rotate(-Math.PI / 2);
    drawRich(ctx, [['λF', 0], ['λ', 1], [' (ergs/cm', 0], ['2', 2], ['/s)', 0]], 0, 0, 5.8, '"DejaVu Serif"');
    ctx.restore();
  }
};

const ROW_H = 1438 / 8;
panelIds.forEach((id, i) => {
  const col = i % 5, row = Math.floor(i / 5);
  const cv = document.createElement('canvas');
  cv.width = 240; cv.height = 180;
  cv.style.left = (col * 240) + 'px';
  cv.style.top = Math.round(row * ROW_H) + 'px';
  cv.style.width = '240px'; cv.style.height = '180px';
  document.body.appendChild(cv);

  const yr = yRangeLog[i];
  const datasets = [
    {label: 'obs', data: toPts(obsPoints[i]), pointStyle: 'circle', pointRadius: 2.3,
     backgroundColor: '#000', borderColor: '#000', borderWidth: 0, order: 0},
    {label: 'ul', data: toPts(upperLimits[i]), pointStyle: 'triangle', rotation: 180, pointRadius: 2.7,
     backgroundColor: '#000', borderColor: '#000', borderWidth: 0, order: 0}
  ];
  errorBars[i].forEach(e => {
    datasets.push({type: 'line', label: 'err', data: [{x: e[0], y: Math.pow(10, e[1])}, {x: e[0], y: Math.pow(10, e[2])}],
      borderColor: '#000', borderWidth: 0.8, pointStyle: 'line', pointRadius: 1.6, pointBorderWidth: 0.8,
      pointBorderColor: '#000', fill: false, order: 1});
  });
  datasets.push({type: 'line', label: 'model', data: toPts(modelCurves[i]), borderColor: '#1b1b84',
    borderWidth: 1.4, pointRadius: 0, fill: false, tension: 0, order: 5});

  new Chart(cv, {
    type: 'scatter',
    data: {datasets},
    options: {
      panelIndex: i,
      responsive: false, animation: false, events: [],
      layout: {padding: {top: 4, right: 12, left: 0, bottom: 0}},
      plugins: {legend: {display: false}, tooltip: {enabled: false}, title: {display: false}},
      scales: {
        x: {
          type: 'logarithmic', position: 'bottom', min: xRange[0], max: xRange[1],
          afterBuildTicks: s => { s.ticks = xTickValues.map(v => ({value: v})); },
          afterFit: s => { s.height = 29; },
          ticks: {autoSkip: false, maxRotation: 0, padding: 0.5, color: '#222',
            font: {size: 4.9, family: 'DejaVu Sans'},
            callback: v => '10' + supStr(Math.round(Math.log10(v)))},
          grid: {display: true, drawOnChartArea: false, drawTicks: true, tickLength: 3, color: '#333', lineWidth: 0.6},
          border: {display: false}
        },
        y: {
          type: 'logarithmic', position: 'left', min: Math.pow(10, yr[0]), max: Math.pow(10, yr[1]),
          afterBuildTicks: s => {
            const t = [];
            for (let e = Math.ceil(yr[0]); e <= Math.floor(yr[1]); e++) t.push({value: Math.pow(10, e)});
            s.ticks = t;
          },
          afterFit: s => { s.width = 34; },
          ticks: {autoSkip: false, padding: 1, color: '#222',
            font: {size: 4.9, family: 'DejaVu Sans'},
            callback: v => '10' + supStr(Math.round(Math.log10(v)))},
          grid: {display: true, drawOnChartArea: false, drawTicks: true, tickLength: 3, color: '#333', lineWidth: 0.6},
          border: {display: false}
        }
      }
    },
    plugins: [decor]
  });
});
</script>
</body></html>
